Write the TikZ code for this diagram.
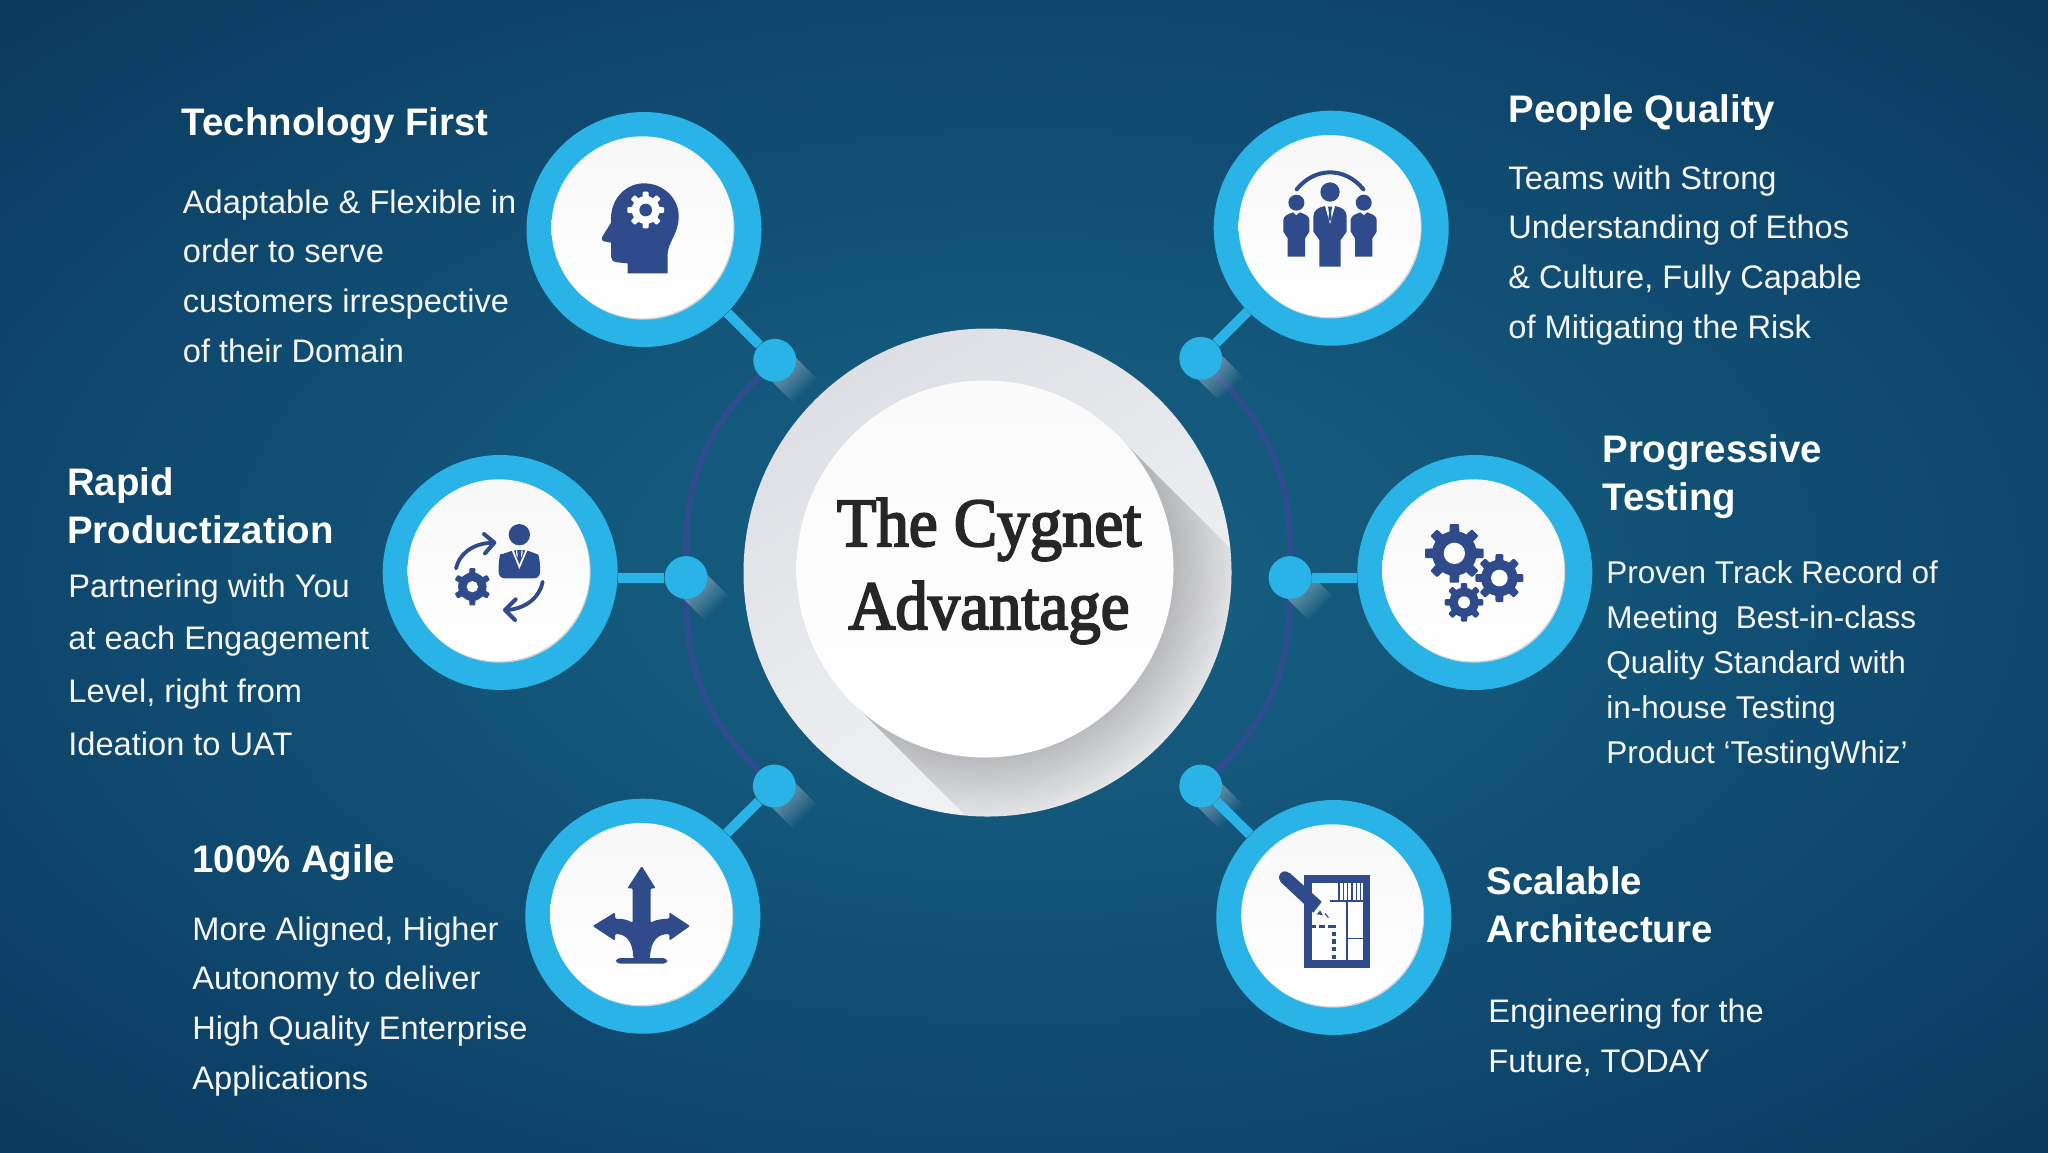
\documentclass[tikz,border=0pt]{standalone}
\usepackage{fontspec}
\setmainfont{Liberation Sans}
\newfontfamily\titlefont[FakeBold=3]{Liberation Serif}
\usetikzlibrary{shapes.geometric,calc}
\definecolor{ringblue}{HTML}{29B3E6}
\definecolor{iconblue}{HTML}{2F4B8B}
\definecolor{arcblue}{HTML}{2F4C8E}
\definecolor{c0}{HTML}{165F80}
\definecolor{c1}{HTML}{13567A}
\definecolor{c2}{HTML}{0F486E}
\definecolor{c3}{HTML}{0B3A60}
\definecolor{c4}{HTML}{09264A}
\pgfdeclareradialshading{pagebg}{\pgfpoint{0bp}{0bp}}{%
 color(0bp)=(c0); color(12bp)=(c1); color(23bp)=(c2); color(35bp)=(c3); color(44bp)=(c4); color(100bp)=(c4)}
\pgfdeclarelayer{under}
\pgfsetlayers{under,main}
\tikzset{
 ringnode/.style={circle,fill=ringblue,inner sep=0,minimum size=117.5pt},
 edgenode/.style={circle,fill=black!18,inner sep=0,minimum size=91pt},
 discnode/.style={circle,inner sep=0,minimum size=91pt,top color=black!3,bottom color=white},
 dotnode/.style={circle,fill=ringblue,inner sep=0,minimum size=21.4pt},
 conn/.style={ringblue,line width=5pt},
 arcline/.style={arcblue,line width=3pt},
 headtxt/.style={anchor=base west,inner sep=0,align=left,text=white,font=\bfseries\fontsize{19.2}{24}\selectfont},
 bodytxt/.style={anchor=base west,inner sep=0,align=left,text=white!96!black,font=\fontsize{16.3}{24.8}\selectfont},
 cropgrid/.style={x=0.166667pt,y=-0.166667pt},
}
\newcommand\cogwheel[7]{% cx cy R hole teeth fg holecolour
 \fill[#6] (#1,#2) circle[radius={0.76*#3}];
 \foreach \k in {1,...,#5}{
  \pgfmathsetmacro\rotk{\k*360/#5}
  \fill[#6,rounded corners=0.5pt,rotate around={\rotk:(#1,#2)}]
    ({#1-0.19*#3},#2) -- ({#1-0.16*#3},{#2-#3}) -- ({#1+0.16*#3},{#2-#3}) -- ({#1+0.19*#3},#2) -- cycle;
 }
 \fill[#7] (#1,#2) circle[radius=#4];
}
\newcommand\hub[3]{%
 \node[ringnode] (ring#1) at (#2,#3) {};
 \node[edgenode] (edge#1) at ($(#2,#3)+(-0.6,-0.8)$) {};
 \node[discnode] (disc#1) at ($(#2,#3)+(-1.6,-2.2)$) {};
}
\begin{document}
\begin{tikzpicture}[x=0.5pt,y=-0.5pt]
\useasboundingbox (0,0) rectangle (2048,1152);
\begin{pgfonlayer}{under}
\shade[shading=pagebg] (0,0) rectangle (2048,1152);
\end{pgfonlayer}

% central plate
\definecolor{platetop}{HTML}{DDDFE4}
\definecolor{platebot}{HTML}{F3F4F6}
\node[circle,inner sep=0,minimum size=244pt,top color=platetop,bottom color=platebot,shading angle=30] (plate) at (987.5,572.5) {};
\begin{scope}
 \clip (987.5,572.5) circle[radius=244];
 \clip (1118,436) -- (1338,656) -- (1072,922) -- (852,702) -- cycle;
 \fill[black,opacity=0.06] (700,300) rectangle (1300,900);
 \foreach \r in {246,243,...,186}{
  \fill[black,opacity=0.0095] (985,569) circle[radius=\r];
 }
\end{scope}
\node[circle,inner sep=0,minimum size=188.5pt,top color=black!2,bottom color=white] (core) at (985,569) {};
\node[text=black!85,align=center,font=\titlefont\fontsize{34.5}{41.5}\selectfont,inner sep=0,anchor=base,xscale=0.94,transform shape] (title) at (989,629) {The Cygnet\\Advantage};

% hubs
\hub{TF}{644}{229.5}
\hub{PQ}{1331.2}{228.2}
\hub{RP}{500.2}{572.5}
\hub{PT}{1474.8}{572.5}
\hub{AG}{642.8}{916.2}
\hub{SA}{1333.8}{917.5}

% dots
\node[dotnode] (dotTF) at (774.7,360.3) {};
\node[dotnode] (dotPQ) at (1200.7,358.3) {};
\node[dotnode] (dotRP) at (686,577.5) {};
\node[dotnode] (dotPT) at (1290,577.5) {};
\node[dotnode] (dotAG) at (774.3,786) {};
\node[dotnode] (dotSA) at (1200.7,786) {};

% connectors
\draw[conn] (ringTF) -- (dotTF);
\draw[conn] (ringPQ) -- (dotPQ);
\draw[conn] (ringRP.east |- dotRP) -- (dotRP);
\draw[conn] (ringPT.west |- dotPT) -- (dotPT);
\draw[conn] (ringAG) -- (dotAG);
\draw[conn] (ringSA) -- (dotSA);

\begin{pgfonlayer}{under}
 \draw[arcline] (dotTF) to[bend right=22.5] (dotRP);
 \draw[arcline] (dotRP) to[bend right=22.5] (dotAG);
 \draw[arcline] (dotPQ) to[bend left=22.5] (dotPT);
 \draw[arcline] (dotPT) to[bend left=22.5] (dotSA);
 \foreach \d in {TF,PQ,RP,PT,AG,SA}{
  \foreach \l in {14,16,...,30}{
   \draw[white,opacity=0.04,line width=17pt] (dot\d.center) -- ++(\l,\l);
  }
 }
\end{pgfonlayer}

% head with cog
\begin{scope}[cropgrid,shift={(1500,300)}]
 \fill[iconblue] (383,520) -- (383,490) -- (350,487) .. controls (338,485) and (333,478) .. (333,465) -- (333,428) -- (312,424) .. controls (303,422) and (304,412) .. (310,405) -- (333,368) .. controls (328,300) and (375,250) .. (432,250) .. controls (490,250) and (537,295) .. (536,350) .. controls (536,400) and (505,425) .. (503,460) -- (503,520) -- cycle;
 \cogwheel{437}{330}{55}{19}{8}{white}{iconblue}
\end{scope}

% people
\begin{scope}[cropgrid,shift={(3570,300)}]
 \draw[iconblue,line width=2pt,line cap=round] (320,268) .. controls (375,200) and (465,200) .. (520,268);
 \fill[iconblue] (420,276) circle[radius=29];
 \fill[iconblue] (370,350) .. controls (370,330) and (385,322) .. (405,318) -- (435,318) .. controls (455,322) and (470,330) .. (470,350) -- (470,395) -- (452,420) -- (452,500) -- (388,500) -- (388,420) -- (370,395) -- cycle;
 \fill[white] (405,318) -- (420,372) -- (435,318) -- cycle;
 \fill[iconblue] (414,320) -- (426,320) -- (423,340) -- (425,355) -- (420,364) -- (415,355) -- (417,340) -- cycle;
 \foreach \s in {0,202}{
  \begin{scope}[shift={(\s,0)}]
   \fill[iconblue] (319,308) circle[radius=24];
   \fill[iconblue] (280,360) .. controls (280,347) and (295,342) .. (309,337) -- (319,346) -- (329,337) .. controls (343,342) and (358,347) .. (358,360) -- (358,395) -- (345,415) -- (345,470) -- (293,470) -- (293,415) -- (280,395) -- cycle;
  \end{scope}
 }
\end{scope}

% person with cycle
\begin{scope}[cropgrid,shift={(1110,1320)}]
 \fill[iconblue] (448,284) circle[radius=32];
 \fill[iconblue,rounded corners=3pt] (386,415) -- (386,360) .. controls (390,345) and (410,338) .. (428,330) -- (470,330) .. controls (490,338) and (505,345) .. (510,360) -- (510,415) -- cycle;
 \fill[white] (425,331) -- (448,387) -- (472,331) -- (466,331) -- (448,374) -- (431,331) -- cycle;
 \fill[white] (438,331) -- (442,331) -- (443,352) -- (439,345) -- cycle;
 \fill[white] (458,331) -- (454,331) -- (453,352) -- (457,345) -- cycle;
 \draw[iconblue,line width=1.9pt,line cap=round] (258,385) .. controls (268,340) and (310,310) .. (366,308);
 \draw[iconblue,line width=2pt,line cap=round,line join=round] (342,282) -- (373,308) -- (345,340);
 \draw[iconblue,line width=1.9pt,line cap=round] (518,425) .. controls (510,470) and (470,505) .. (412,510);
 \draw[iconblue,line width=2pt,line cap=round,line join=round] (437,478) -- (405,510) -- (435,540);
 \cogwheel{307}{440}{56}{17}{6}{iconblue}{white}
\end{scope}

% three cogs
\begin{scope}[cropgrid,shift={(4020,1320)}]
 \cogwheel{343}{340}{88}{32}{8}{iconblue}{white}
 \fill[white] (478,414) circle[radius=68];
 \cogwheel{478}{414}{72}{25}{8}{iconblue}{white}
 \fill[white] (372,487) circle[radius=54];
 \cogwheel{372}{487}{58}{18}{8}{iconblue}{white}
\end{scope}

% branching arrows
\begin{scope}[cropgrid,shift={(1530,2340)}]
 \fill[iconblue,rounded corners=0.6pt] (368,325) -- (368,428) .. controls (350,418) and (335,416) .. (315,416) -- (315,397) -- (248,438) -- (315,482) -- (315,462) .. controls (345,462) and (368,480) .. (370,535) -- (420,535) .. controls (422,480) and (445,462) .. (478,462) -- (478,482) -- (540,438) -- (478,397) -- (478,416) .. controls (460,416) and (440,418) .. (422,428) -- (422,325) -- (437,325) -- (395,258) -- (352,325) -- cycle;
 \fill[iconblue,rounded corners=2pt] (318,534) rectangle (472,551);
\end{scope}

% floor plan
\begin{scope}[cropgrid,shift={(3570,2340)}]
 \fill[iconblue] (341,284) rectangle (541,563);
 \fill[white] (365,308) rectangle (518,540);
 \fill[iconblue] (468,362) rectangle (473,540);
 \fill[iconblue] (420,360) rectangle (518,365);
 \fill[iconblue] (470,473) rectangle (518,478);
 \foreach \sx in {447,460,473,486,499,512}{
  \fill[iconblue] (\sx-2,308) rectangle (\sx+2,360);
 }
 \fill[iconblue] (365,434) rectangle (378,444);
 \fill[iconblue] (388,434) rectangle (405,444);
 \fill[iconblue] (415,434) rectangle (437,444);
 \foreach \sy in {455,478,500,525}{
  \fill[iconblue] (425,\sy) rectangle (437,\sy+13);
 }
 \draw[iconblue,line width=6pt,line cap=round] (285,292) -- (325,330);
 \fill[iconblue] (271,305) -- (298,278) -- (395,365) -- (370,398) -- cycle;
 \fill[iconblue] (341,320) rectangle (365,425);
 \fill[white] (394,380) -- (412,410) -- (372,406) -- cycle;
 \fill[iconblue] (390,391) -- (398,405) -- (380,403) -- cycle;
 \draw[iconblue,line width=0.6pt] (405,400) -- (415,413);
\end{scope}

% texts
\node[headtxt] (hTF) at (181.5,135.5) {Technology First};
\node[bodytxt] (bTF) at (182.5,362) {Adaptable \& Flexible in\\order to serve\\customers irrespective\\of their Domain};
\node[headtxt] (hPQ) at (1508,122) {People Quality};
\node[bodytxt] (bPQ) at (1508,338) {Teams with Strong\\Understanding of Ethos\\\& Culture, Fully Capable\\of Mitigating the Risk};
\node[headtxt] (hRP) at (66.6,543) {Rapid\\Productization};
\node[bodytxt,font=\fontsize{16.3}{26.3}\selectfont] (bRP) at (68,755) {Partnering with You\\at each Engagement\\Level, right from\\Ideation to UAT};
\node[headtxt] (hPT) at (1602,510.5) {Progressive\\Testing};
\node[bodytxt,font=\fontsize{15.75}{22.4}\selectfont] (bPT) at (1606,763) {Proven Track Record of\\Meeting\ \ Best-in-class\\Quality Standard with\\in-house Testing\\Product ‘TestingWhiz’};
\node[headtxt] (hAG) at (192,872) {100\% Agile};
\node[bodytxt] (bAG) at (192,1089) {More Aligned, Higher\\Autonomy to deliver\\High Quality Enterprise\\Applications};
\node[headtxt] (hSA) at (1486,942.5) {Scalable\\Architecture};
\node[bodytxt] (bSA) at (1488,1072) {Engineering for the\\Future, TODAY};
\end{tikzpicture}
\end{document}
